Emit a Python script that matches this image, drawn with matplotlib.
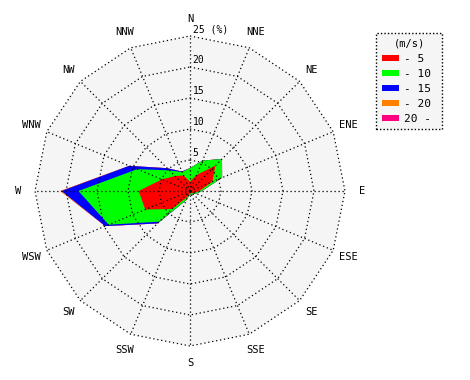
import numpy as np
import matplotlib
matplotlib.use("Agg")
import matplotlib.pyplot as plt
from matplotlib.patches import Patch

directions = ["N", "NNE", "NE", "ENE", "E", "ESE", "SE", "SSE",
              "S", "SSW", "SW", "WSW", "W", "WNW", "NW", "NNW"]
speed_labels = ["- 5", "- 10", "- 15", "- 20", "20 -"]
colors = ["#ff0000", "#00ff00", "#0000ff", "#ff8000", "#ff0080"]
ring_values = [5, 10, 15, 20, 25]

# frequency (%) per speed class and direction
bin_5 = [1.5, 2.8, 5.8, 3.9, 1.5, 0.8, 0.5, 0.4, 0.4, 1.0, 4.1, 7.8, 8.3, 4.9, 3.4, 2.7]
bin_10 = [2.2, 2.5, 1.5, 1.7, 0.4, 0.3, 0.2, 0.2, 0.2, 0.6, 2.9, 6.4, 9.7, 4.3, 1.3, 0.6]
bin_15 = [0.0, 0.0, 0.0, 0.0, 0.0, 0.0, 0.0, 0.0, 0.0, 0.0, 0.4, 0.6, 2.7, 1.4, 0.5, 0.1]
bin_20 = [0.0, 0.0, 0.0, 0.0, 0.0, 0.0, 0.0, 0.0, 0.0, 0.0, 0.0, 0.0, 0.2, 0.0, 0.0, 0.0]
bin_over = [0.0] * 16

bins = [bin_5, bin_10, bin_15, bin_20, bin_over]
cum = np.cumsum(np.array(bins), axis=0)

W, H = 470, 380
cx, cy = 190, 191
scale = 155 / 25.0

fig = plt.figure(figsize=(W / 100, H / 100), dpi=100)
ax = fig.add_axes([0, 0, 1, 1])
ax.set_xlim(-cx / scale, (W - cx) / scale)
ax.set_ylim(-(H - cy) / scale, cy / scale)
ax.axis("off")

ang = np.deg2rad(np.arange(16) * 22.5)
sx, sy = np.sin(ang), np.cos(ang)

def closed(r):
    r = np.asarray(r, dtype=float)
    x = r * sx
    y = r * sy
    return np.append(x, x[0]), np.append(y, y[0])

# background
bx, by = closed([25] * 16)
ax.fill(bx, by, color="#f5f5f5", zorder=0, lw=0)

# stacked polygons, outermost first
for i in range(len(bins) - 1, -1, -1):
    px, py = closed(cum[i])
    ax.fill(px, py, color=colors[i], lw=0, zorder=2)

# grid
dot = (0, (1, 2.2))
for rv in ring_values:
    gx, gy = closed([rv] * 16)
    ax.plot(gx, gy, color="black", lw=0.9, ls=dot, zorder=3)
for k in range(16):
    ax.plot([0, 25 * sx[k]], [0, 25 * sy[k]], color="black", lw=0.9, ls=dot, zorder=3)

# ring labels
for rv in ring_values:
    lab = str(rv) if rv != 25 else "25 (%)"
    ax.text(0.45, rv + 0.3, lab, fontsize=7, family="DejaVu Sans Mono",
            ha="left", va="bottom", zorder=4)

# direction labels
for k, d in enumerate(directions):
    rr = 27.7
    ax.text(rr * sx[k], rr * sy[k], d, fontsize=7.5, family="DejaVu Sans Mono",
            ha="center", va="center", zorder=4)

handles = [Patch(facecolor=c, edgecolor="none") for c in colors]
leg = fig.legend(handles, speed_labels, title="(m/s)",
                 loc="upper left",
                 bbox_to_anchor=(376 / W, 1 - 127 / H, 66 / W, 94 / H),
                 mode="expand",
                 prop={"family": "DejaVu Sans Mono", "size": 8},
                 title_fontproperties={"family": "DejaVu Sans Mono", "size": 7.5},
                 frameon=True, fancybox=False, handlelength=1.6, handleheight=0.45,
                 labelspacing=0.45, borderpad=0.5, handletextpad=0.4,
                 borderaxespad=0)
fr = leg.get_frame()
fr.set_facecolor("#f5f5f5")
fr.set_edgecolor("black")
fr.set_linestyle((0, (1, 1.5)))
fr.set_linewidth(1)
fr.set_alpha(1)

fig.savefig("out.png", dpi=100)
